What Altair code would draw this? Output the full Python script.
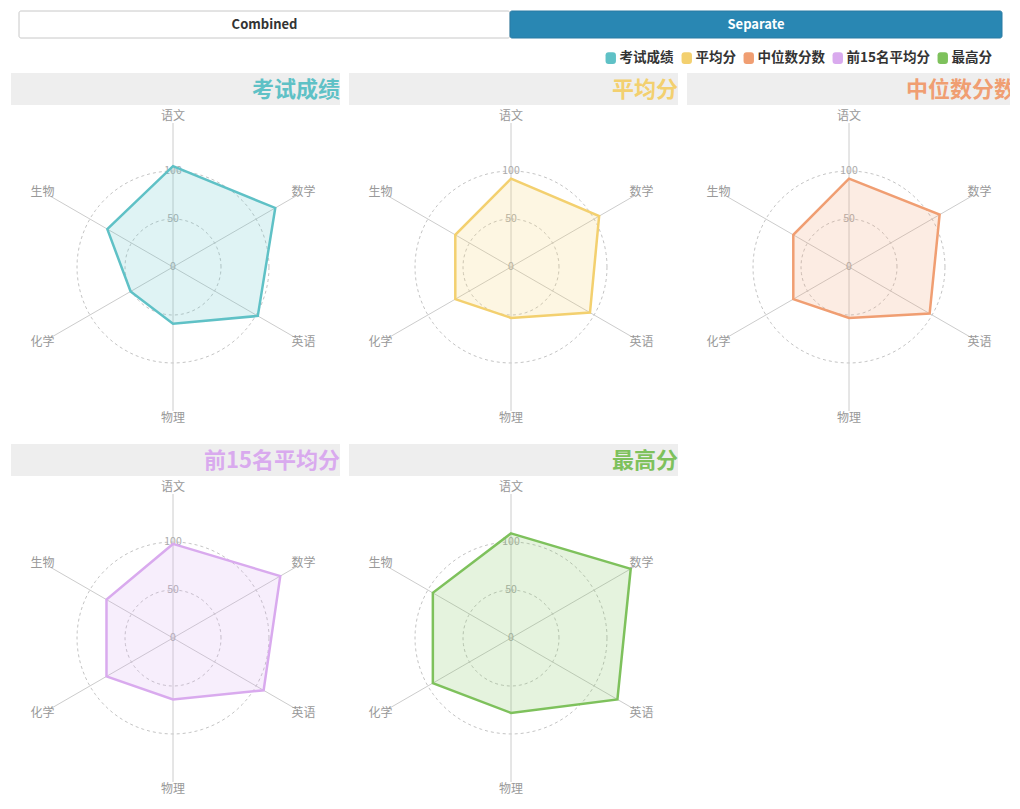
import altair as alt
import pandas as pd

FONT = "Noto Sans CJK SC"

# ---------------- data ----------------
subjects = ["语文", "数学", "英语", "物理", "化学", "生物"]
series_names = ["考试成绩", "平均分", "中位数分数", "前15名平均分", "最高分"]
colors = ["#5fc1c6", "#f3d06f", "#f09e72", "#d9aaee", "#7ec15c"]

exam_scores = [105, 123, 102, 59, 51, 79]
average_scores = [92, 106, 95, 53, 67, 67]
median_scores = [92, 109, 97, 53, 67, 67]
top15_scores = [98, 129, 109, 64, 80, 80]
max_scores = [109, 144, 128, 78, 94, 94]
series_values = [exam_scores, average_scores, median_scores, top15_scores, max_scores]

tick_values = [0, 50, 100]
ring_values = [50, 100]
axis_max = 150
label_radius = 157
buttons = ["Combined", "Separate"]

# ---------------- layout ----------------
K = 0.96          # pixels per score unit
CX, CY = 162, 194  # radar centre inside a panel (px)
PW, PH = 329, 350  # panel size
BAR_H = 32

color_scale = alt.Scale(domain=series_names, range=colors)

sym_path = ("M-0.8,-0.46 Q-0.8,-0.92 -0.34,-0.92 L0.34,-0.92 Q0.8,-0.92 0.8,-0.46 "
            "L0.8,0.46 Q0.8,0.92 0.34,0.92 L-0.34,0.92 Q-0.8,0.92 -0.8,0.46 Z")

legend = alt.Legend(
    orient="none", legendX=593, legendY=43, direction="horizontal", title=None,
    symbolType=sym_path, symbolSize=169, symbolStrokeWidth=0, symbolOpacity=1,
    labelFont=FONT, labelFontSize=13.5, labelFontWeight="bold", labelColor="#333333",
    labelOffset=2, columnPadding=6,
)


def panel(i, width):
    name = series_names[i]
    col = colors[i]
    xs = alt.Scale(domain=[-CX / K, (width - CX) / K], nice=False, zero=False)
    ys = alt.Scale(domain=[-(PH - CY) / K, CY / K], nice=False, zero=False)

    df = pd.DataFrame({"subject": subjects, "idx": list(range(len(subjects))),
                       "value": series_values[i], "series": name})
    base = alt.Chart(df).transform_calculate(
        ang="PI/2 - datum.idx*PI/3",
        zero="0",
    )

    rings = []
    for rv in ring_values:
        rings.append(
            alt.Chart(alt.sequence(0, 360, 4, as_="deg")).transform_calculate(
                rx=f"{rv}*cos(datum.deg*PI/180)", ry=f"{rv}*sin(datum.deg*PI/180)"
            ).mark_line(interpolate="linear-closed", stroke="#c4c4c4", strokeWidth=1,
                        strokeDash=[3, 3]).encode(
                x=alt.X("rx:Q", scale=xs, axis=None),
                y=alt.Y("ry:Q", scale=ys, axis=None),
                order=alt.Order("deg:Q"),
            )
        )

    spokes = base.transform_calculate(
        ex=f"{axis_max}*cos(datum.ang)", ey=f"{axis_max}*sin(datum.ang)"
    ).mark_rule(color="#cccccc", strokeWidth=1).encode(
        x=alt.X("zero:Q", scale=xs, axis=None),
        y=alt.Y("zero:Q", scale=ys, axis=None),
        x2="ex:Q", y2="ey:Q",
    )

    ticks = alt.Chart(pd.DataFrame({"t": tick_values})).transform_calculate(
        zero="0"
    ).mark_text(color="#aaaaaa", fontSize=10.5, align="center", baseline="middle",
                font=FONT).encode(
        x=alt.X("zero:Q", scale=xs, axis=None),
        y=alt.Y("t:Q", scale=ys, axis=None),
        text="t:Q",
    )

    poly = base.transform_calculate(
        px="datum.value*cos(datum.ang)", py="datum.value*sin(datum.ang)"
    ).mark_line(interpolate="linear-closed", strokeWidth=2.5, stroke=col, fill=col,
                fillOpacity=0.2).encode(
        x=alt.X("px:Q", scale=xs, axis=None),
        y=alt.Y("py:Q", scale=ys, axis=None),
        order=alt.Order("idx:Q"),
        detail="series:N",
    )

    labels = base.transform_calculate(
        lx=f"{label_radius}*cos(datum.ang)", ly=f"{label_radius}*sin(datum.ang)"
    ).mark_text(color="#999999", fontSize=12, align="center", baseline="middle",
                font=FONT).encode(
        x=alt.X("lx:Q", scale=xs, axis=None),
        y=alt.Y("ly:Q", scale=ys, axis=None),
        text="subject:N",
    )

    tdata = pd.DataFrame({"t": [name]})
    bar = alt.Chart(tdata).mark_rect(color="#eeeeee").encode(
        x=alt.value(0), x2=alt.value(width), y=alt.value(0), y2=alt.value(BAR_H)
    )
    title = alt.Chart(tdata).mark_text(
        align="right", baseline="middle", fontSize=22, fontWeight="bold",
        color=col, font=FONT, clip=True
    ).encode(x=alt.value(PW), y=alt.value(BAR_H / 2 + 1), text="t:N")

    layers = rings + [spokes, ticks, poly, labels, bar, title]
    if i == 0:
        # legend carrier: filled symbols, no drawn marks
        leg = alt.Chart(pd.DataFrame({"series": series_names})).transform_filter(
            "false"
        ).transform_calculate(zero="0").mark_point(filled=True, opacity=1).encode(
            x=alt.X("zero:Q", scale=xs, axis=None),
            y=alt.Y("zero:Q", scale=ys, axis=None),
            color=alt.Color("series:N", scale=color_scale, legend=legend),
        )
        layers.append(leg)
    return alt.layer(*layers).properties(width=width, height=PH)


hdf = pd.DataFrame({"label": buttons})
hbase = alt.Chart(hdf)
btn1 = hbase.transform_filter(alt.datum.label == buttons[0]).mark_rect(
    fill="white", stroke="#c8c8c8", strokeWidth=1, cornerRadius=2
).encode(x=alt.value(8), x2=alt.value(499), y=alt.value(3), y2=alt.value(30))
btn2 = hbase.transform_filter(alt.datum.label == buttons[1]).mark_rect(
    fill="#2987b3", stroke="#2a7aa3", strokeWidth=1, cornerRadius=2
).encode(x=alt.value(499), x2=alt.value(991), y=alt.value(3), y2=alt.value(30))
txt1 = hbase.transform_filter(alt.datum.label == buttons[0]).mark_text(
    font=FONT, fontSize=13, fontWeight="bold", color="#333333", baseline="middle"
).encode(x=alt.value(253.5), y=alt.value(17), text="label:N")
txt2 = hbase.transform_filter(alt.datum.label == buttons[1]).mark_text(
    font=FONT, fontSize=13, fontWeight="bold", color="white", baseline="middle"
).encode(x=alt.value(745), y=alt.value(17), text="label:N")
header = alt.layer(btn1, btn2, txt1, txt2).properties(width=999, height=55)

row1 = alt.hconcat(panel(0, PW), panel(1, PW), panel(2, 323), spacing=9, bounds="flush")
row2 = alt.hconcat(panel(3, PW), panel(4, PW), spacing=9, bounds="flush")
grid = alt.vconcat(row1, row2, spacing=20)

chart = alt.vconcat(header, grid, spacing=10).properties(
    padding={"left": 3, "top": 0, "right": 0, "bottom": 0}
).configure(font=FONT).configure_view(strokeWidth=0)

chart.save("out.html", embed_options={"renderer": "svg", "actions": False})
